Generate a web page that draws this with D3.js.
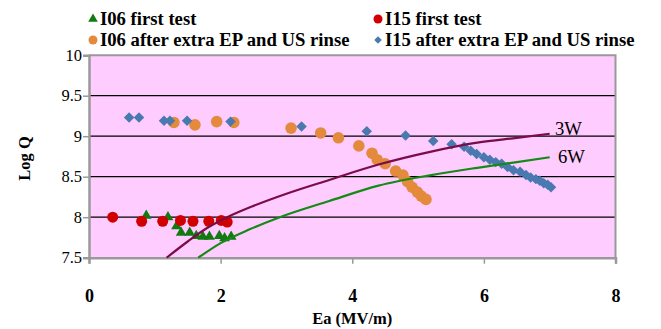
<!DOCTYPE html>
<html>
<head>
<meta charset="utf-8">
<script src="https://cdn.jsdelivr.net/npm/d3@7/dist/d3.min.js"></script>
<style>
body{margin:0;background:#fff;}
</style>
</head>
<body>
<svg id="c" width="661" height="329"></svg>
<script>
// ---- data ----
const i06First = [[0.87,8.02],[1.20,8.00],[1.33,7.89],[1.40,7.81],[1.53,7.81],[1.63,7.77],[1.73,7.76],[1.83,7.76],[1.98,7.77],[2.06,7.74],[2.16,7.76]];
const i15First = [[0.36,8.00],[0.80,7.95],[1.12,7.95],[1.39,7.96],[1.58,7.95],[1.82,7.95],[2.01,7.96],[2.10,7.94]];
const i06After = [[1.29,9.17],[1.61,9.14],[1.94,9.18],[2.20,9.17],[3.07,9.10],[3.52,9.04],[3.79,8.98],[4.10,8.88],[4.30,8.79],[4.38,8.71],[4.50,8.66],[4.66,8.57],[4.77,8.52],[4.84,8.44],[4.91,8.37],[4.99,8.31],[5.05,8.26],[5.12,8.22]];
const i15After = [[0.61,9.23],[0.76,9.23],[1.14,9.19],[1.23,9.19],[1.49,9.19],[2.15,9.18],[3.23,9.12],[4.22,9.06],[4.81,9.01],[5.23,8.94],[5.51,8.90],[5.70,8.87],[5.80,8.82],[5.89,8.78],[6.00,8.74],[6.09,8.71],[6.18,8.68],[6.27,8.66],[6.36,8.62],[6.45,8.58],[6.55,8.56],[6.64,8.52],[6.71,8.49],[6.79,8.47],[6.85,8.45],[6.91,8.42],[6.97,8.40],[7.02,8.37]];
const curve3W = [[1.18,7.50],[1.50,7.70],[1.80,7.87],[2.10,8.00],[2.50,8.14],[3.00,8.29],[3.65,8.46],[4.40,8.65],[5.20,8.81],[5.90,8.92],[6.50,8.98],[7.00,9.03]];
const curve6W = [[1.66,7.50],[2.00,7.68],[2.44,7.85],[2.90,8.00],[3.65,8.20],[4.40,8.39],[5.20,8.52],[5.90,8.61],[6.50,8.68],[7.00,8.74]];
const xTicks = [0,2,4,6,8];
const yTicks = [7.5,8,8.5,9,9.5,10];
const yTickLabels = ["7.5","8","8.5","9","9.5","10"];
const legendLabels = ["I06 first test","I15 first test","I06 after extra EP and US rinse","I15 after extra EP and US rinse"];
const curveLabels = ["3W","6W"];

// ---- layout ----
const FONT = '"Liberation Serif"';
const L=89, R=615.5, T=55.2, B=257.7;
const svg = d3.select("#c");
const x = d3.scaleLinear().domain([0,8]).range([L,R]);
const y = d3.scaleLinear().domain([7.5,10]).range([B,T]);

const cGreen="#117a11", cRed="#d10000", cOrange="#e38a3c", cBlue="#4a79b0", cPurple="#7a0c48", cGreenLine="#158a15";

svg.append("rect").attr("x",L).attr("y",T).attr("width",R-L).attr("height",B-T).attr("fill","#ffccff");

svg.append("g").selectAll("line").data(yTicks.filter(d=>d>7.5&&d<10)).join("line")
  .attr("x1",L).attr("x2",R).attr("y1",d=>y(d)).attr("y2",d=>y(d))
  .attr("stroke","#000").attr("stroke-width",1.2);

svg.append("path").attr("d",`M${L},${T}H${R}V${B}`).attr("fill","none").attr("stroke","#999").attr("stroke-width",2);

const xAxis = d3.axisBottom(x).tickValues(xTicks).tickSize(6).tickFormat(d3.format("d"));
const gx = svg.append("g").attr("transform",`translate(0,${B})`).call(xAxis);
gx.select(".domain").attr("stroke","#999").attr("stroke-width",2.5);
gx.selectAll(".tick line").attr("stroke","#999").attr("stroke-width",1.5);
gx.selectAll(".tick text").attr("y",32).attr("font-size",18).attr("font-weight","bold").attr("fill","#000").style("font-family",FONT);

const yAxis = d3.axisLeft(y).tickValues(yTicks).tickSize(6).tickFormat((d,i)=>yTickLabels[i]);
const gy = svg.append("g").attr("transform",`translate(${L},0)`).call(yAxis);
gy.select(".domain").attr("stroke","#999").attr("stroke-width",2.5);
gy.selectAll(".tick line").attr("stroke","#999").attr("stroke-width",1.5);
gy.selectAll(".tick text").attr("x",-7).attr("font-size",16.5).attr("fill","#000").style("font-family",FONT);

svg.append("text").attr("x",(L+R)/2).attr("y",324).attr("text-anchor","middle").style("font-family",FONT)
  .attr("font-size",16.5).attr("font-weight","bold").text("Ea (MV/m)");
svg.append("text").attr("transform",`translate(30,${(T+B)/2+2}) rotate(-90)`).attr("text-anchor","middle").style("font-family",FONT)
  .attr("font-size",16.5).attr("font-weight","bold").text("Log Q");

const plot = svg.append("g");
const tri = d3.symbol().type(d3.symbolTriangle).size(50);
plot.append("g").selectAll("path").data(i06First).join("path")
  .attr("d",tri).attr("transform",d=>`translate(${x(d[0])},${y(d[1])})`).attr("fill",cGreen);
plot.append("g").selectAll("circle").data(i15First).join("circle")
  .attr("cx",d=>x(d[0])).attr("cy",d=>y(d[1])).attr("r",5.5).attr("fill",cRed);
plot.append("g").selectAll("circle").data(i06After).join("circle")
  .attr("cx",d=>x(d[0])).attr("cy",d=>y(d[1])).attr("r",5.8).attr("fill",cOrange);
const dia = d3.symbol().type(d3.symbolSquare).size(55);
plot.append("g").selectAll("path").data(i15After).join("path")
  .attr("d",dia).attr("transform",d=>`translate(${x(d[0])},${y(d[1])}) rotate(45)`).attr("fill",cBlue);

const line = d3.line().x(d=>x(d[0])).y(d=>y(d[1])).curve(d3.curveMonotoneX);
plot.append("path").datum(curve3W).attr("d",line).attr("fill","none").attr("stroke",cPurple).attr("stroke-width",2.2);
plot.append("path").datum(curve6W).attr("d",line).attr("fill","none").attr("stroke",cGreenLine).attr("stroke-width",2.2);

svg.append("text").attr("x",555).attr("y",135).style("font-family",FONT).attr("font-size",18.67).text(curveLabels[0]);
svg.append("text").attr("x",558).attr("y",163).style("font-family",FONT).attr("font-size",18.67).text(curveLabels[1]);

const leg = [
  {x:93,y:19,label:legendLabels[0],kind:"tri",color:cGreen},
  {x:378,y:19,label:legendLabels[1],kind:"circ",color:cRed},
  {x:93,y:40,label:legendLabels[2],kind:"circ",color:cOrange},
  {x:378,y:40,label:legendLabels[3],kind:"dia",color:cBlue}
];
const lg = svg.append("g");
leg.forEach(l=>{
  if(l.kind==="tri") lg.append("path").attr("d",d3.symbol().type(d3.symbolTriangle).size(40)).attr("transform",`translate(${l.x},${l.y})`).attr("fill",l.color);
  else if(l.kind==="circ") lg.append("circle").attr("cx",l.x).attr("cy",l.y).attr("r",4.5).attr("fill",l.color);
  else lg.append("path").attr("d",d3.symbol().type(d3.symbolSquare).size(28)).attr("transform",`translate(${l.x},${l.y}) rotate(45)`).attr("fill",l.color);
  lg.append("text").attr("x",l.x+7).attr("y",l.y+6).style("font-family",FONT).attr("font-size",18.67).attr("font-weight","bold").text(l.label);
});
</script>
</body>
</html>
